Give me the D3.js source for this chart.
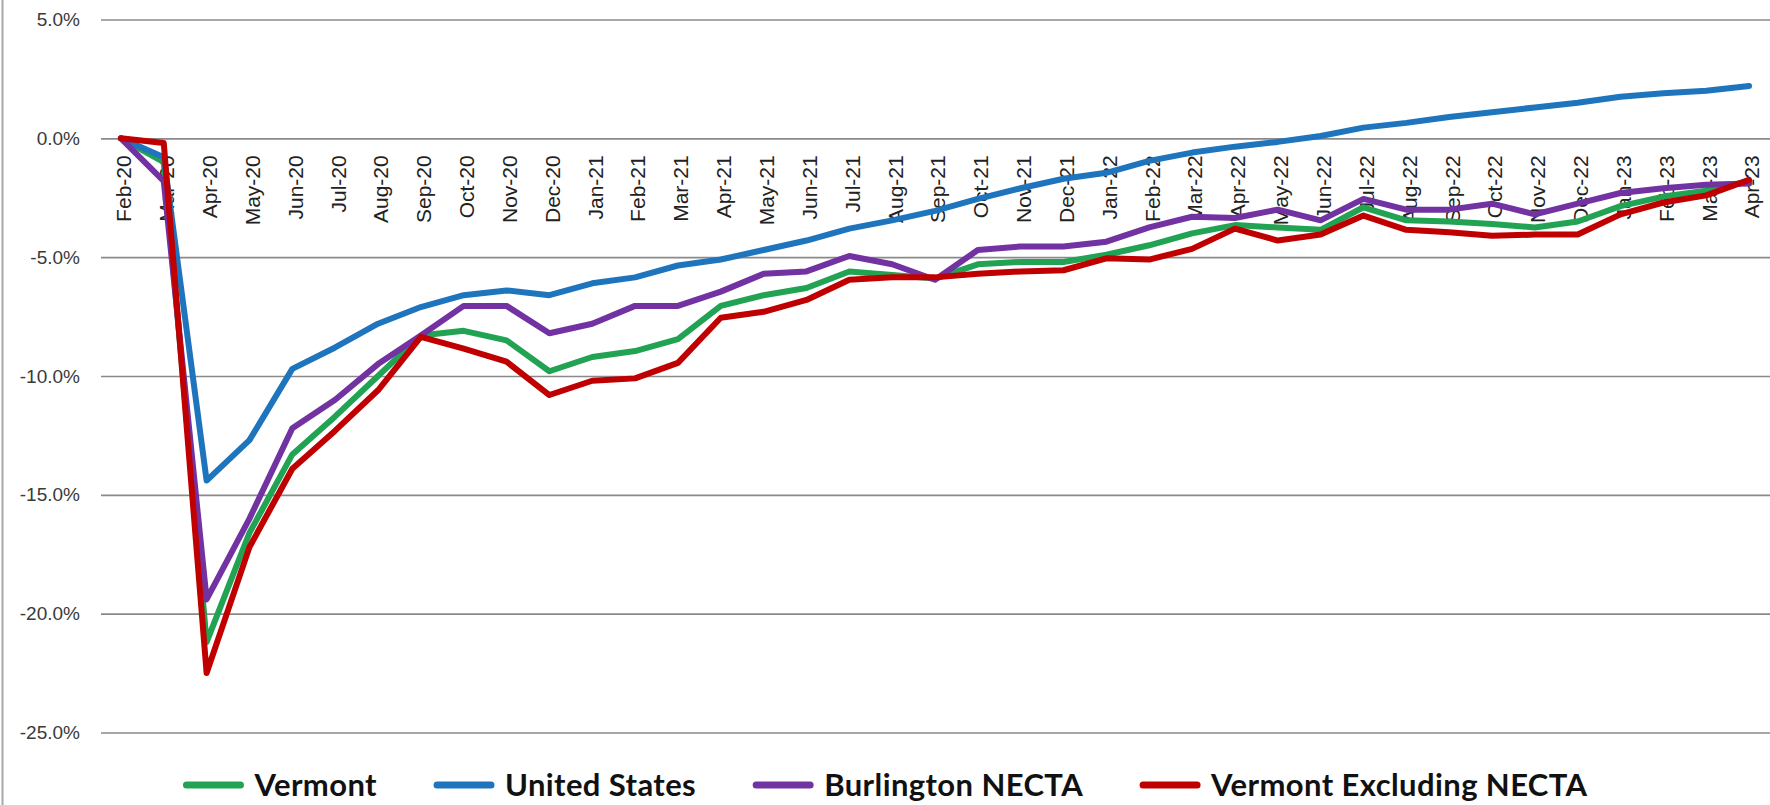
<!DOCTYPE html>
<html>
<head>
<meta charset="utf-8">
<script src="https://cdn.jsdelivr.net/npm/d3@7"></script>
<style>
  body { margin: 0; background: #fff; }
  svg { display: block; }
</style>
</head>
<body>
<div id="chart"></div>
<script>

// categories (months) and series values, % change since Feb-20
const months = ["Feb-20", "Mar-20", "Apr-20", "May-20", "Jun-20", "Jul-20", "Aug-20", "Sep-20", "Oct-20", "Nov-20",
    "Dec-20", "Jan-21", "Feb-21", "Mar-21", "Apr-21", "May-21", "Jun-21", "Jul-21", "Aug-21", "Sep-21",
    "Oct-21", "Nov-21", "Dec-21", "Jan-22", "Feb-22", "Mar-22", "Apr-22", "May-22", "Jun-22", "Jul-22",
    "Aug-22", "Sep-22", "Oct-22", "Nov-22", "Dec-22", "Jan-23", "Feb-23", "Mar-23", "Apr-23"]

const vermont = [0, -1.0, -21.2, -16.6, -13.3, -11.7, -10.0, -8.3, -8.1, -8.5,
    -9.8, -9.2, -8.95, -8.45, -7.05, -6.6, -6.3, -5.6, -5.75, -5.9,
    -5.3, -5.2, -5.2, -4.9, -4.5, -4.0, -3.65, -3.75, -3.85, -2.9,
    -3.45, -3.5, -3.6, -3.75, -3.5, -2.85, -2.45, -2.2, -1.8]

const unitedStates = [0, -0.8, -14.4, -12.7, -9.7, -8.8, -7.8, -7.1, -6.6, -6.4,
    -6.6, -6.1, -5.85, -5.35, -5.1, -4.7, -4.3, -3.8, -3.45, -3.05,
    -2.55, -2.1, -1.7, -1.45, -0.95, -0.6, -0.35, -0.15, 0.1, 0.45,
    0.65, 0.9, 1.1, 1.3, 1.5, 1.75, 1.9, 2.0, 2.2]

const burlington = [0, -1.8, -19.4, -16.0, -12.2, -11.0, -9.5, -8.3, -7.05, -7.05,
    -8.2, -7.8, -7.05, -7.05, -6.45, -5.7, -5.6, -4.95, -5.3, -5.95,
    -4.7, -4.55, -4.55, -4.35, -3.75, -3.3, -3.35, -3.0, -3.45, -2.55,
    -3.0, -3.0, -2.75, -3.2, -2.75, -2.3, -2.1, -1.95, -1.9]

const vermontExNecta = [0, -0.2, -22.5, -17.2, -13.9, -12.3, -10.6, -8.35, -8.85, -9.4,
    -10.8, -10.2, -10.1, -9.45, -7.55, -7.3, -6.8, -5.95, -5.85, -5.85,
    -5.7, -5.6, -5.55, -5.05, -5.1, -4.65, -3.8, -4.3, -4.05, -3.25,
    -3.85, -3.95, -4.1, -4.05, -4.05, -3.2, -2.7, -2.4, -1.75]

const seriesNames = ["Vermont", "United States", "Burlington NECTA", "Vermont Excluding NECTA"]
const seriesColors = ["#21a353", "#1f75bd", "#7232a2", "#c00000"]
const yTicks = [5, 0, -5, -10, -15, -20, -25]

const W = 1770, H = 805
const plotLeft = 99.5, plotRight = 1770.5
const plotTop = 19.5, plotBottom = 732.5

const svg = d3.select("#chart").append("svg")
    .attr("width", W)
    .attr("height", H)

const x = d3.scalePoint()
    .domain(months)
    .range([plotLeft, plotRight])
    .padding(0.5)

const y = d3.scaleLinear()
    .domain([-25, 5])
    .range([plotBottom, plotTop])

// outer border at left
svg.append("line")
    .attr("x1", 2.5).attr("x2", 2.5)
    .attr("y1", 0).attr("y2", H)
    .attr("stroke", "#a8a8a8")
    .attr("stroke-width", 2)

// gridlines + y labels
const yAxis = d3.axisLeft(y)
    .tickValues(yTicks)
    .tickSize(-(plotRight - 101))
    .tickPadding(21)
    .tickFormat(d => d.toFixed(1) + "%")

svg.append("g")
    .attr("transform", "translate(101,0)")
    .call(yAxis)
    .call(g => g.select(".domain").remove())
    .call(g => g.selectAll(".tick line")
        .attr("stroke", "#8a8a8a")
        .attr("stroke-width", 1.6))
    .call(g => g.selectAll(".tick text")
        .attr("fill", "#3a3a3a")
        .style("font-family", "'Liberation Sans', Arial, sans-serif")
        .style("font-size", "19px"))

// category labels, rotated, hanging under the zero line
svg.append("g")
    .selectAll("text")
    .data(months)
    .enter()
    .append("text")
    .attr("transform", d => "translate(" + (x(d) + 3) + "," + (y(0) + 17) + ") rotate(-90)")
    .attr("text-anchor", "end")
    .attr("dy", "0.35em")
    .attr("fill", "#222")
    .style("font-family", "'Liberation Sans', Arial, sans-serif")
    .style("font-size", "21px")
    .text(d => d)

// lines
const allSeries = [vermont, unitedStates, burlington, vermontExNecta]
const line = d3.line()
    .x((d, i) => x(months[i]))
    .y(d => y(d))

svg.append("g")
    .selectAll("path")
    .data(allSeries)
    .enter()
    .append("path")
    .attr("d", d => line(d))
    .attr("fill", "none")
    .attr("stroke", (d, i) => seriesColors[i])
    .attr("stroke-width", 6)
    .attr("stroke-linejoin", "round")
    .attr("stroke-linecap", "round")

// legend, centered at the bottom
const legend = svg.append("g")
const legY = 785
const swatch = 54, swatchGap = 14, itemGap = 60
let items = seriesNames.map((name, i) => {
    let g = legend.append("g")
    g.append("line")
        .attr("x1", 0).attr("x2", swatch)
        .attr("y1", 0).attr("y2", 0)
        .attr("stroke", seriesColors[i])
        .attr("stroke-width", 7)
        .attr("stroke-linecap", "round")
    let t = g.append("text")
        .attr("x", swatch + swatchGap)
        .attr("y", 0)
        .attr("dy", "0.36em")
        .attr("fill", "#111")
        .style("font-family", "Lato, 'Open Sans', sans-serif")
        .style("font-weight", "700")
        .style("font-size", "31px")
        .style("letter-spacing", "0.4px")
        .text(name)
    return { g: g, w: swatch + swatchGap + t.node().getComputedTextLength() }
})
let total = d3.sum(items, d => d.w) + itemGap * (items.length - 1)
let cx = (W - total) / 2 + 2
items.forEach(it => {
    it.g.attr("transform", "translate(" + cx + "," + legY + ")")
    cx += it.w + itemGap
})

</script>
</body>
</html>
